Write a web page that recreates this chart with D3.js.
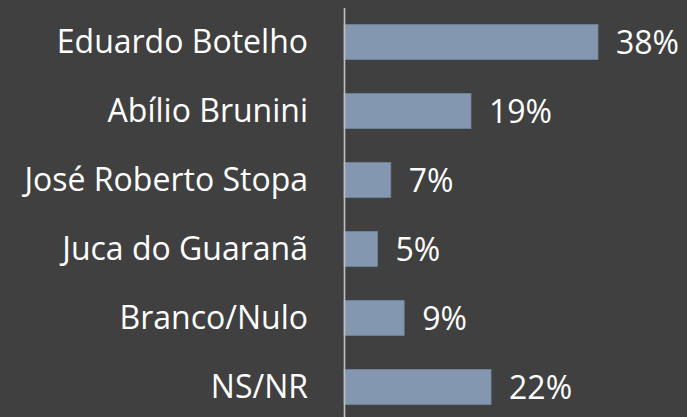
<!DOCTYPE html>
<html>
<head>
<meta charset="utf-8">
<script src="https://cdn.jsdelivr.net/npm/d3@7"></script>
<style>
  html, body { margin: 0; padding: 0; background: #404040; }
  svg { display: block; }
</style>
</head>
<body>
<svg id="chart"></svg>
<script>
const candidates = ["Eduardo Botelho", "Abílio Brunini", "José Roberto Stopa", "Juca do Guaranã", "Branco/Nulo", "NS/NR"];
const shares = [38, 19, 7, 5, 9, 22];

const width = 687, height = 417;
const svg = d3.select("#chart").attr("width", width).attr("height", height);

svg.append("rect")
    .attr("width", width)
    .attr("height", height)
    .attr("fill", "#404040");

const x = d3.scaleLinear()
    .domain([0, 38])
    .range([344, 598]);

const y = d3.scaleBand()
    .domain(candidates)
    .range([7.5, 421.5])
    .paddingInner(0.49)
    .paddingOuter(0.245);

// bars
svg.selectAll(".bar")
    .data(candidates)
    .enter()
    .append("rect")
    .attr("class", "bar")
    .attr("x", x(0))
    .attr("y", (d) => y(d))
    .attr("width", (d, i) => x(shares[i]) - x(0))
    .attr("height", y.bandwidth())
    .attr("fill", "#8497b0")
    .attr("stroke", "#71839b")
    .attr("stroke-width", 0.8);

// category axis
const yAxis = svg.append("g")
    .attr("transform", `translate(${x(0)},0)`)
    .call(d3.axisLeft(y).tickSize(0).tickSizeOuter(0).tickPadding(36));
yAxis.select(".domain")
    .attr("stroke", "#bfbfbf")
    .attr("stroke-width", 1.6);
yAxis.selectAll("text")
    .attr("fill", "#ffffff")
    .attr("font-family", "'Open Sans', sans-serif")
    .attr("font-size", 32)
    .attr("dy", "0.35em");

// value labels
svg.selectAll(".value")
    .data(candidates)
    .enter()
    .append("text")
    .attr("class", "value")
    .attr("x", (d, i) => x(shares[i]) + 18)
    .attr("y", (d) => y(d) + y.bandwidth() / 2 + 1)
    .attr("dy", "0.35em")
    .attr("fill", "#ffffff")
    .attr("font-family", "'Open Sans', sans-serif")
    .attr("font-size", 32)
    .text((d, i) => shares[i] + "%");
</script>
</body>
</html>
